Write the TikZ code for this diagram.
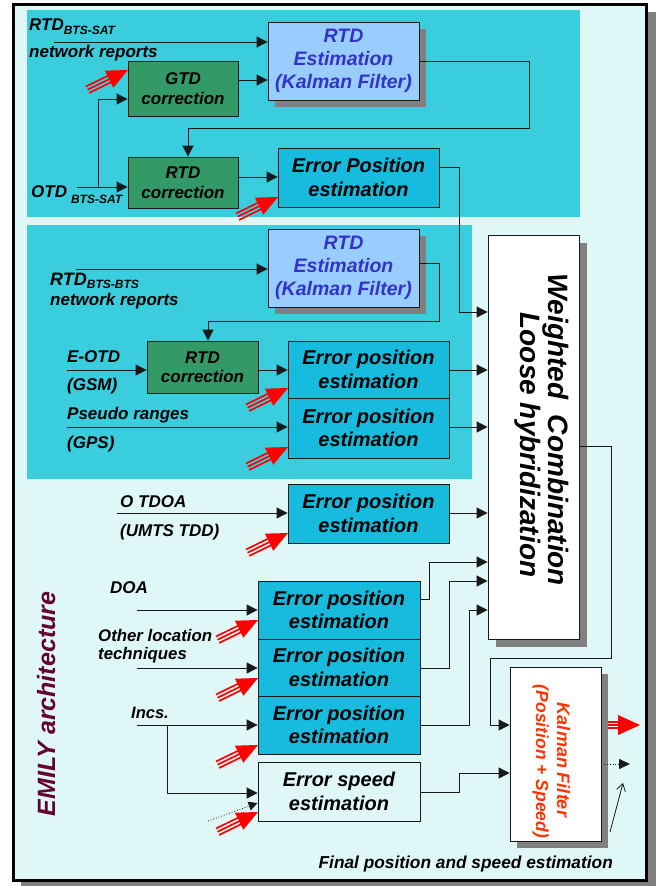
\documentclass[tikz,border=0pt]{standalone}
\usepackage{fontspec}
\setmainfont{Liberation Sans}
\usetikzlibrary{arrows.meta,shadows}
\definecolor{bgc}{RGB}{224,247,247}
\definecolor{panel}{RGB}{57,205,222}
\definecolor{epc}{RGB}{22,187,221}
\definecolor{grn}{RGB}{51,153,102}
\definecolor{lblue}{RGB}{153,204,255}
\definecolor{tblue}{RGB}{51,51,204}
\definecolor{kred}{RGB}{255,51,0}
\definecolor{emc}{RGB}{102,0,51}
\definecolor{shc}{RGB}{128,128,128}
\begin{document}
\begin{tikzpicture}[x=1pt,y=-1pt,
  ln/.style={draw=black!90, line width=0.8pt},
  arr/.style={ln, -{Triangle[length=11pt,width=11pt]}},
  box/.style={draw=black!90, line width=0.8pt, align=center, inner sep=0pt},
  shad/.style={drop shadow={shadow xshift=#1, shadow yshift=-#1, fill=shc, opacity=1}},
  lbbox/.style={box, fill=lblue, text=tblue, shad=7pt, font=\fontsize{19.5}{23}\selectfont\bfseries\itshape},
  gbox/.style={box, fill=grn, font=\fontsize{17}{19.5}\selectfont\bfseries\itshape},
  ebox/.style={box, fill=epc, font=\fontsize{20}{23.5}\selectfont\bfseries\itshape},
  sbox/.style={box, fill=bgc, font=\fontsize{20}{23.5}\selectfont\bfseries\itshape},
  wbox/.style={box, fill=white},
  lab/.style={anchor=base west, inner sep=0pt, font=\fontsize{17}{20}\selectfont\bfseries\itshape},
  redarr/.pic={
    \fill[red] (0,0) -- (-21,-9.5) -- (-21,9.5) -- cycle;
    \draw[red,line width=1.7pt] (-45,-3.6) -- (-19,-3.6) (-45,0) -- (-19,0) (-45,3.6) -- (-19,3.6);
  },
  bigred/.pic={
    \fill[red] (0,0) -- (-22,-10) -- (-22,10) -- cycle;
    \draw[red,line width=1.5pt] (-32,-3) -- (-20,-3) (-32,0) -- (-20,0) (-32,3) -- (-20,3);
  }
]
\useasboundingbox (0,0) rectangle (659,886);
% frame
\fill[shc] (21,12) rectangle (656,886);
\draw[line width=3pt, fill=bgc] (13.5,4.5) rectangle (646.5,880);
% panels
\fill[panel] (27,10) rectangle (580,217);
\fill[panel] (27,225) rectangle (472,479);

% ---- top panel ----
\node[lbbox, minimum width=151pt, minimum height=78pt] (rtdA) at (343.5,61) {RTD\\Estimation\\(Kalman Filter)};
\node[gbox, minimum width=110pt, minimum height=55pt] (gtd) at (183,88.5) {GTD\\correction};
\node[gbox, minimum width=110pt, minimum height=51pt] (rtdcA) at (183,182.5) {RTD\\correction};
\node[ebox, minimum width=161pt, minimum height=59pt] (epA) at (358.5,177.5) {Error Position\\estimation};

% ---- middle panel ----
\node[lbbox, minimum width=151pt, minimum height=78pt] (rtdB) at (343.5,268) {RTD\\Estimation\\(Kalman Filter)};
\node[gbox, minimum width=111pt, minimum height=52pt] (rtdcB) at (202.5,367) {RTD\\correction};
\node[ebox, minimum width=161pt, minimum height=57pt] (epB1) at (368.5,369.5) {Error position\\estimation};
\node[ebox, minimum width=161pt, minimum height=60pt] (epB2) at (368.5,428) {Error position\\estimation};

% ---- lower part ----
\node[ebox, minimum width=161pt, minimum height=59pt] (epC) at (368.5,513.5) {Error position\\estimation};
\node[ebox, minimum width=162pt, minimum height=58pt] (epD1) at (339,610) {Error position\\estimation};
\node[ebox, minimum width=162pt, minimum height=57pt] (epD2) at (339,667.5) {Error position\\estimation};
\node[ebox, minimum width=162pt, minimum height=58pt] (epD3) at (339,725) {Error position\\estimation};
\node[sbox, minimum width=162pt, minimum height=59pt] (esp) at (339,791.5) {Error speed\\estimation};

\node[wbox, shad=8pt, minimum width=91pt, minimum height=404pt] (wc) at (533.5,437) {};
\node[rotate=-90, anchor=base, inner sep=0pt, font=\fontsize{28}{28}\selectfont\bfseries\itshape] (wct1) at (548,430) {Weighted\ \ Combination};
\node[rotate=-90, anchor=base, inner sep=0pt, font=\fontsize{28}{28}\selectfont\bfseries\itshape] (wct2) at (520,445) {Loose\ hybridization};

\node[wbox, shad=7pt, minimum width=91pt, minimum height=174pt] (kf) at (555.5,754) {};
\node[rotate=-90, anchor=base, inner sep=0pt, text=kred, font=\fontsize{18}{18}\selectfont\bfseries\itshape] (kft1) at (557,760) {Kalman Filter};
\node[rotate=-90, anchor=base, inner sep=0pt, text=kred, font=\fontsize{17.5}{18}\selectfont\bfseries\itshape] (kft2) at (536,761.5) {(Position + Speed)};

% ---- labels ----
\node[lab] (lA) at (29,30) {RTD\raisebox{-5pt}{\fontsize{12}{12}\selectfont BTS-SAT}};
\node[lab] (lB) at (29,57) {network reports};
\node[lab] (lC) at (31,197) {OTD\hspace{4pt}\raisebox{-6pt}{\fontsize{12}{12}\selectfont BTS-SAT}};
\node[lab, font=\fontsize{18}{20}\selectfont\bfseries\itshape] (lD) at (50,285) {RTD\raisebox{-3pt}{\fontsize{12}{12}\selectfont BTS-BTS}};
\node[lab] (lE) at (50,305) {network reports};
\node[lab] (lF) at (67,362) {E-OTD};
\node[lab] (lG) at (67,390) {(GSM)};
\node[lab] (lH) at (67,419) {Pseudo ranges};
\node[lab] (lI) at (67,448) {(GPS)};
\node[lab] (lJ) at (120,507) {O TDOA};
\node[lab] (lK) at (120,536) {(UMTS TDD)};
\node[lab] (lL) at (110,593) {DOA};
\node[lab, font=\fontsize{16.8}{18}\selectfont\bfseries\itshape] (lM) at (98,641) {Other location};
\node[lab, font=\fontsize{16.8}{18}\selectfont\bfseries\itshape] (lN) at (98,659) {techniques};
\node[lab, font=\fontsize{16.5}{18}\selectfont\bfseries\itshape] (lO) at (131,718) {Incs.};
\node[anchor=base east, inner sep=0pt, font=\fontsize{17.3}{19}\selectfont\bfseries\itshape] (lP) at (613,868) {Final position and speed estimation};
\node[rotate=90, anchor=base, inner sep=0pt, text=emc, font=\fontsize{25}{25}\selectfont\bfseries\itshape] (lQ) at (55,704) {EMILY architecture};

% ---- input coordinates ----
\coordinate (inA) at (54,42);
\coordinate (inOTD) at (77,187);
\coordinate (brA) at (98,187);
\coordinate (inB) at (76,269);
\coordinate (inE) at (67,370);
\coordinate (inP) at (67,427);
\coordinate (inT) at (117,513);
\coordinate (inDOA) at (137,610);
\coordinate (inOth) at (137,668);
\coordinate (inInc) at (137,725);
\coordinate (brInc) at (167,725);
\coordinate (inDot) at (208,821);

% ---- connectors, top ----
\draw[arr] (inA) -- (inA -| rtdA.west);
\draw[arr] (gtd.east |- 0,80) -- (rtdA.west |- 0,80);
\draw[arr] (inOTD) -- (inOTD -| rtdcA.west);
\draw[arr] (brA) -- (98,99) -- (gtd.west |- 0,99);
\draw[arr] (rtdA.east) -- (529,61) -- (529,128) -- (188,128) -- (rtdcA.north -| 188,0);
\draw[arr] (rtdcA.east |- 0,177) -- (epA.west |- 0,177);
\draw[arr] (epA.east |- 0,167) -- (459,167) -- (459,312) -- (wc.west |- 0,312);
% middle
\draw[arr] (inB) -- (inB -| rtdB.west);
\draw[arr] (rtdB.east |- 0,263) -- (439,263) -- (439,321) -- (208,321) -- (rtdcB.north -| 208,0);
\draw[arr] (inE) -- (inE -| rtdcB.west);
\draw[arr] (rtdcB.east |- 0,370) -- (epB1.west |- 0,370);
\draw[arr] (inP) -- (inP -| epB2.west);
\draw[arr] (epB1.east |- 0,370) -- (wc.west |- 0,370);
\draw[arr] (epB2.east |- 0,427) -- (wc.west |- 0,427);
% lower
\draw[arr] (inT) -- (inT -| epC.west);
\draw[arr] (epC.east |- 0,513) -- (wc.west |- 0,513);
\draw[arr] (inDOA) -- (inDOA -| epD1.west);
\draw[arr] (inOth) -- (inOth -| epD2.west);
\draw[arr] (inInc) -- (inInc -| epD3.west);
\draw[arr] (brInc) -- (167,793) -- (esp.west |- 0,793);
\draw[ln, dotted, -{Triangle[length=9pt,width=9pt]}] (inDot) -- (esp.west |- 0,803);
\draw[arr] (epD1.east |- 0,599) -- (429,599) -- (429,562) -- (wc.west |- 0,562);
\draw[arr] (epD2.east |- 0,668) -- (449,668) -- (449,581) -- (wc.west |- 0,581);
\draw[arr] (epD3.east |- 0,725) -- (469,725) -- (469,610) -- (wc.west |- 0,610);
\draw[arr] (esp.east |- 0,792) -- (459,792) -- (459,773) -- (kf.west |- 0,773);
\draw[arr] (wc.east |- 0,446) -- (611,446) -- (611,658) -- (490,658) -- (490,725) -- (kf.west |- 0,725);
% outputs
\coordinate (outD) at (630,764);
\coordinate (outT) at (623,783);
\draw[ln, dotted, -{Triangle[length=11pt,width=10pt]}] (kf.east |- 0,764) -- (outD);
\draw[ln, -{Straight Barb[length=7pt,width=9pt]}] (610,832) -- (outT);
\pic at (640,725) {bigred};

% ---- red inputs ----
\pic[rotate=26] at (128,70) {redarr};
\pic[rotate=26] at (278,197) {redarr};
\pic[rotate=26] at (288,388) {redarr};
\pic[rotate=26] at (288,447) {redarr};
\pic[rotate=26] at (288,533) {redarr};
\pic[rotate=26] at (258,620) {redarr};
\pic[rotate=26] at (258,678) {redarr};
\pic[rotate=26] at (258,745) {redarr};
\pic[rotate=26] at (258,812) {redarr};
\end{tikzpicture}
\end{document}
